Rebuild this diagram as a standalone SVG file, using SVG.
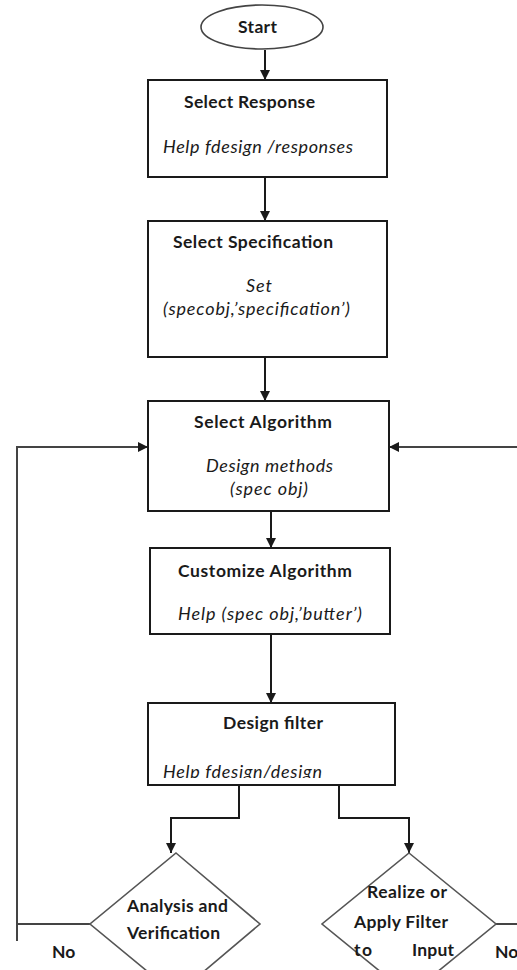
<svg xmlns="http://www.w3.org/2000/svg" width="517" height="970" viewBox="0 0 517 970">
<style>
.box{fill:#fff;stroke:#1a1a1a;stroke-width:2}
.dia{fill:#fff;stroke:#555;stroke-width:1.6}
.ln{fill:none;stroke:#1a1a1a;stroke-width:2}
.lp{fill:none;stroke:#444;stroke-width:2}
.h{font-family:Lato,"Liberation Sans",sans-serif;font-weight:bold;font-size:17.5px;fill:#1a1a1a}
.i{font-family:Lato,"Liberation Sans",sans-serif;font-style:italic;font-size:18px;fill:#1a1a1a}
</style>
<defs>
<marker id="ah" viewBox="0 0 10 10" refX="10" refY="5" markerWidth="10" markerHeight="10" markerUnits="userSpaceOnUse" orient="auto">
<path d="M0,0 L10,5 L0,10 Z" fill="#1a1a1a"/>
</marker>
<clipPath id="c5"><rect x="148" y="703" width="247" height="75"/></clipPath>
</defs>
<g id="connectors">
<path class="ln" d="M265,50 V80" marker-end="url(#ah)"/>
<path class="ln" d="M265,177 V221" marker-end="url(#ah)"/>
<path class="ln" d="M265,357 V401" marker-end="url(#ah)"/>
<path class="ln" d="M271,511 V548" marker-end="url(#ah)"/>
<path class="ln" d="M271,634 V703" marker-end="url(#ah)"/>
<path class="ln" d="M239,785 V818 H171 V853" marker-end="url(#ah)"/>
<path class="ln" d="M339,785 V818 H409 V853" marker-end="url(#ah)"/>
<path class="lp" d="M90,924 H17"/>
<path class="lp" d="M17,941 V447 H148" marker-end="url(#ah)"/>
<path class="lp" d="M496,924 H517"/>
<path class="lp" d="M517,447 H389" marker-end="url(#ah)"/>
</g>
<g id="start">
<ellipse cx="262" cy="27" rx="61" ry="22" fill="#fff" stroke="#444" stroke-width="1.6"/>
<text class="h" x="238" y="33" textLength="39">Start</text>
</g>
<g id="select-response">
<rect class="box" x="148" y="80" width="239" height="97"/>
<text class="h" x="184" y="108" textLength="131">Select Response</text>
<text class="i" x="163" y="153" textLength="190">Help fdesign  /responses</text>
</g>
<g id="select-specification">
<rect class="box" x="148" y="221" width="239" height="136"/>
<text class="h" x="173" y="248" textLength="160">Select Specification</text>
<text class="i" x="246" y="292" textLength="26">Set</text>
<text class="i" x="163" y="315" textLength="187">(specobj,’specification’)</text>
</g>
<g id="select-algorithm">
<rect class="box" x="148" y="401" width="241" height="110"/>
<text class="h" x="194" y="428" textLength="138">Select  Algorithm</text>
<text class="i" x="206" y="472" textLength="127">Design methods</text>
<text class="i" x="230" y="495" textLength="78">(spec obj)</text>
</g>
<g id="customize-algorithm">
<rect class="box" x="150" y="548" width="240" height="86"/>
<text class="h" x="178" y="577" textLength="174">Customize  Algorithm</text>
<text class="i" x="178" y="620" textLength="184">Help (spec obj,’butter’)</text>
</g>
<g id="design-filter">
<rect class="box" x="148" y="703" width="247" height="82"/>
<text class="h" x="223" y="729" textLength="100">Design filter</text>
<text class="i" x="163" y="778" textLength="159" clip-path="url(#c5)">Help fdesign/design</text>
</g>
<g id="analysis">
<path class="dia" d="M176,853 L260,924 L176,995 L90,924 Z"/>
<text class="h" x="127" y="912" textLength="101">Analysis and</text>
<text class="h" x="127" y="939" textLength="93">Verification</text>
<text class="h" x="52" y="958">No</text>
</g>
<g id="realize">
<path class="dia" d="M409,853 L496,924 L409,995 L322,924 Z"/>
<text class="h" x="367" y="898" textLength="80">Realize or</text>
<text class="h" x="354" y="928" textLength="94">Apply Filter</text>
<text class="h" x="354" y="956" textLength="18">to</text>
<text class="h" x="412" y="956" textLength="42">Input</text>
<text class="h" x="495" y="958">No</text>
</g>
</svg>
